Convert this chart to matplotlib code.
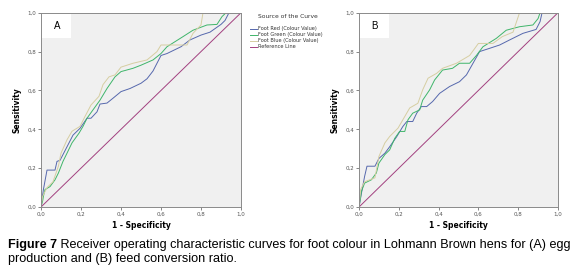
import matplotlib
matplotlib.use("Agg")
import matplotlib.pyplot as plt
from matplotlib.patches import Rectangle
from matplotlib.ticker import FuncFormatter

# ROC curves: (1 - specificity, sensitivity)
a_red_x = [0, 0.012, 0.03, 0.07, 0.08, 0.095, 0.13, 0.16, 0.195, 0.23, 0.25, 0.28, 0.295, 0.33, 0.36, 0.40,
           0.445, 0.50, 0.53, 0.56, 0.60, 0.63, 0.70, 0.745, 0.80, 0.845, 0.90, 0.92, 0.94, 1.0]
a_red_y = [0, 0.09, 0.19, 0.19, 0.235, 0.24, 0.31, 0.37, 0.405, 0.457, 0.457, 0.49, 0.53, 0.535, 0.56, 0.594,
           0.61, 0.637, 0.66, 0.70, 0.78, 0.79, 0.825, 0.86, 0.885, 0.90, 0.94, 0.96, 1.0, 1.0]
a_green_x = [0, 0.008, 0.012, 0.02, 0.045, 0.07, 0.087, 0.11, 0.13, 0.155, 0.19, 0.21, 0.23, 0.26, 0.295, 0.33,
             0.37, 0.40, 0.46, 0.50, 0.56, 0.60, 0.63, 0.71, 0.76, 0.83, 0.88, 0.905, 0.925, 1.0]
a_green_y = [0, 0.03, 0.055, 0.09, 0.105, 0.14, 0.175, 0.235, 0.277, 0.33, 0.38, 0.415, 0.457, 0.50, 0.55, 0.61,
             0.67, 0.697, 0.714, 0.73, 0.757, 0.79, 0.825, 0.877, 0.91, 0.937, 0.94, 0.98, 1.0, 1.0]
a_blue_x = [0, 0.008, 0.03, 0.06, 0.087, 0.10, 0.13, 0.155, 0.195, 0.22, 0.25, 0.29, 0.31, 0.34, 0.37, 0.40,
            0.46, 0.53, 0.58, 0.60, 0.73, 0.76, 0.80, 0.81, 1.0]
a_blue_y = [0, 0.055, 0.10, 0.13, 0.21, 0.277, 0.346, 0.39, 0.415, 0.466, 0.525, 0.57, 0.63, 0.67, 0.68, 0.72,
            0.74, 0.757, 0.80, 0.834, 0.834, 0.894, 0.937, 1.0, 1.0]

b_red_x = [0, 0.012, 0.028, 0.04, 0.08, 0.10, 0.13, 0.154, 0.19, 0.22, 0.24, 0.27, 0.29, 0.313, 0.34, 0.37,
           0.405, 0.455, 0.505, 0.54, 0.573, 0.606, 0.657, 0.707, 0.757, 0.824, 0.89, 0.91, 0.92, 1.0]
b_red_y = [0, 0.07, 0.157, 0.21, 0.21, 0.25, 0.277, 0.31, 0.363, 0.414, 0.44, 0.44, 0.483, 0.517, 0.517, 0.543,
           0.585, 0.62, 0.645, 0.68, 0.74, 0.80, 0.817, 0.834, 0.86, 0.894, 0.914, 0.954, 1.0, 1.0]
b_green_x = [0, 0.012, 0.028, 0.062, 0.087, 0.10, 0.13, 0.154, 0.18, 0.204, 0.23, 0.246, 0.27, 0.305, 0.32,
             0.355, 0.38, 0.42, 0.47, 0.505, 0.556, 0.59, 0.623, 0.69, 0.74, 0.807, 0.874, 0.90, 0.91, 1.0]
b_green_y = [0, 0.08, 0.123, 0.14, 0.175, 0.226, 0.27, 0.294, 0.354, 0.389, 0.389, 0.449, 0.483, 0.50, 0.55,
             0.603, 0.654, 0.705, 0.714, 0.74, 0.74, 0.78, 0.825, 0.868, 0.91, 0.928, 0.937, 0.97, 1.0, 1.0]
b_blue_x = [0, 0.008, 0.028, 0.08, 0.10, 0.13, 0.154, 0.196, 0.23, 0.255, 0.296, 0.32, 0.347, 0.39, 0.42,
            0.49, 0.556, 0.60, 0.673, 0.72, 0.774, 0.807, 1.0]
b_blue_y = [0, 0.09, 0.13, 0.15, 0.26, 0.33, 0.363, 0.406, 0.466, 0.51, 0.534, 0.603, 0.663, 0.688, 0.714,
            0.74, 0.78, 0.842, 0.842, 0.877, 0.90, 1.0, 1.0]

ref = [0, 1]
ticks = [0.0, 0.2, 0.4, 0.6, 0.8, 1.0]
legend_labels = ["Foot Red (Colour Value)", "Foot Green (Colour Value)",
                 "Foot Blue (Colour Value)", "Reference Line"]
colors = ["#5668ad", "#3fb56a", "#d6cea2", "#a2407f"]
caption_bold = "Figure 7"
caption_1 = " Receiver operating characteristic curves for foot colour in Lohmann Brown hens for (A) egg"
caption_2 = "production and (B) feed conversion ratio."

fig = plt.figure(figsize=(5.8, 2.74), dpi=100)
comma = FuncFormatter(lambda v, p: f"{v:.1f}".replace(".", ","))


def panel(rect, letter, curves):
    ax = fig.add_axes(rect)
    ax.set_facecolor("#f0f0f0")
    for (x, y), c in zip(curves, colors[:3]):
        ax.plot(x, y, color=c, lw=0.7)
    ax.plot(ref, ref, color=colors[3], lw=0.7)
    ax.set_xlim(0, 1)
    ax.set_ylim(0, 1)
    ax.set_xticks(ticks)
    ax.set_yticks(ticks)
    ax.xaxis.set_major_formatter(comma)
    ax.yaxis.set_major_formatter(comma)
    ax.tick_params(labelsize=4, length=2, width=0.5, pad=1.5, colors="#555555")
    for s in ax.spines.values():
        s.set_color("#8a8a8a")
        s.set_linewidth(0.7)
    ax.add_patch(Rectangle((0, 0.87), 0.15, 0.13, transform=ax.transAxes,
                           facecolor="white", edgecolor="none", zorder=1))
    ax.text(0.08, 0.93, letter, transform=ax.transAxes, ha="center", va="center",
            fontsize=7, family="Liberation Sans", zorder=3)
    ax.set_xlabel("1 - Specificity", fontsize=5.5, fontweight="bold", labelpad=3)
    ax.set_ylabel("Sensitivity", fontsize=5.5, fontweight="bold", labelpad=4)
    return ax


axA = panel([0.0707, 0.2445, 0.3448, 0.709], "A",
            [(a_red_x, a_red_y), (a_green_x, a_green_y), (a_blue_x, a_blue_y)])
axB = panel([0.619, 0.2445, 0.343, 0.709], "B",
            [(b_red_x, b_red_y), (b_green_x, b_green_y), (b_blue_x, b_blue_y)])

# legend drawn in figure coordinates
fig.text(0.444, 0.938, "Source of the Curve", fontsize=4.3, color="#333333", va="center")
for i, (lab, c) in enumerate(zip(legend_labels, colors)):
    yy = 1 - (28.5 + 6 * i) / 274
    fig.add_artist(plt.Line2D([0.431, 0.443], [yy, yy], color=c, lw=0.7))
    fig.text(0.445, yy, lab, fontsize=3.6, color="#333333", va="center")

# caption: bold lead-in followed by regular text
cap_fs = 9.1
t_bold = fig.text(0.014, 1 - 245 / 274, caption_bold, fontsize=cap_fs, fontweight="bold",
                  family="Liberation Sans", va="center")
fig.canvas.draw()
bb = t_bold.get_window_extent(fig.canvas.get_renderer())
fig.text(bb.x1 / fig.bbox.width, 1 - 245 / 274, caption_1, fontsize=cap_fs,
         family="Liberation Sans", va="center")
fig.text(0.014, 1 - 259 / 274, caption_2, fontsize=cap_fs, family="Liberation Sans", va="center")

fig.savefig("out.png", dpi=100)
